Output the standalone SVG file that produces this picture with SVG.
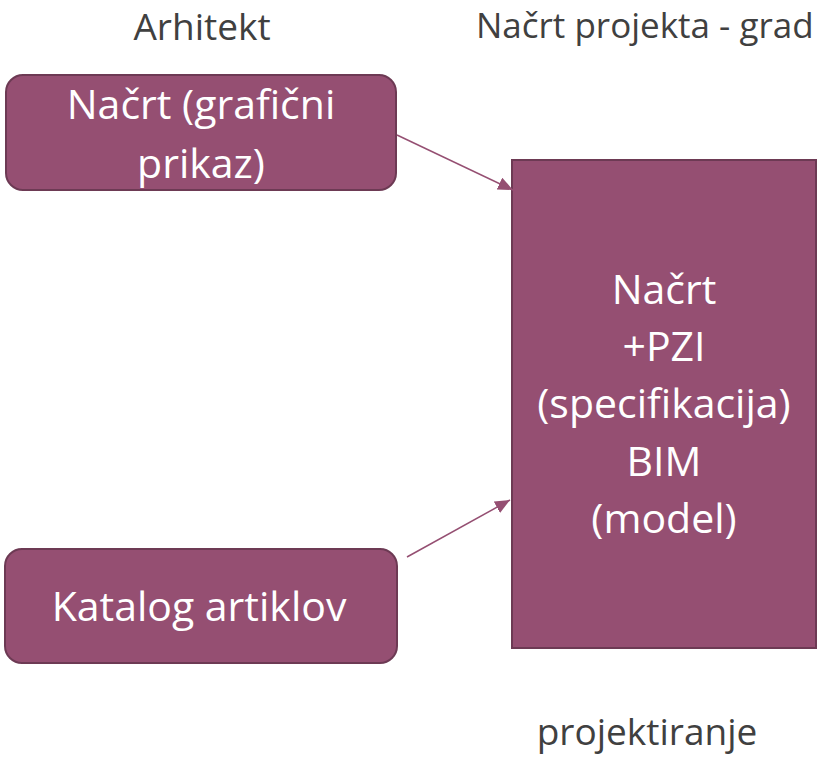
<svg xmlns="http://www.w3.org/2000/svg" width="820" height="758" viewBox="0 0 820 758">
<style>
.box{fill:#954F72;stroke:#6D3A54;stroke-width:2}
.bt{font-family:"Open Sans","Liberation Sans",sans-serif;font-size:41px;fill:#FFFFFF;text-anchor:middle}
.lbl{font-family:"Open Sans","Liberation Sans",sans-serif;font-size:37px;fill:#404040}
.lbl-sm{font-size:35px}
.conn{stroke:#954F72;stroke-width:1.5;fill:none}
</style>
<defs>
<marker id="ah" viewBox="0 0 10 10" refX="10" refY="5" markerWidth="15" markerHeight="13" markerUnits="userSpaceOnUse" orient="auto" preserveAspectRatio="none">
<path d="M0,0 L10,5 L0,10 z" fill="#954F72"/>
</marker>
</defs>
<rect width="820" height="758" fill="#FFFFFF"/>
<g id="labels">
<text class="lbl" x="202" y="40" text-anchor="middle">Arhitekt</text>
<text class="lbl lbl-sm" x="476" y="38">Načrt projekta - grad</text>
<text class="lbl" x="647" y="745" text-anchor="middle">projektiranje</text>
</g>
<g id="node-nacrt">
<rect class="box" x="6" y="75" width="390" height="115" rx="17"/>
<text class="bt" x="201" y="119">Načrt (grafični</text>
<text class="bt" x="201" y="178">prikaz)</text>
</g>
<g id="node-katalog">
<rect class="box" x="5" y="549" width="392" height="114" rx="17"/>
<text class="bt" x="199" y="621">Katalog artiklov</text>
</g>
<g id="node-bim">
<rect class="box" x="512" y="160" width="304" height="488"/>
<text class="bt" x="664" y="304">Načrt</text>
<text class="bt" x="664" y="361">+PZI</text>
<text class="bt" x="664" y="418">(specifikacija)</text>
<text class="bt" x="664" y="476">BIM</text>
<text class="bt" x="664" y="533">(model)</text>
</g>
<g id="connectors">
<line class="conn" x1="397" y1="135" x2="513" y2="190" marker-end="url(#ah)"/>
<line class="conn" x1="407" y1="557" x2="510" y2="500" marker-end="url(#ah)"/>
</g>
</svg>
